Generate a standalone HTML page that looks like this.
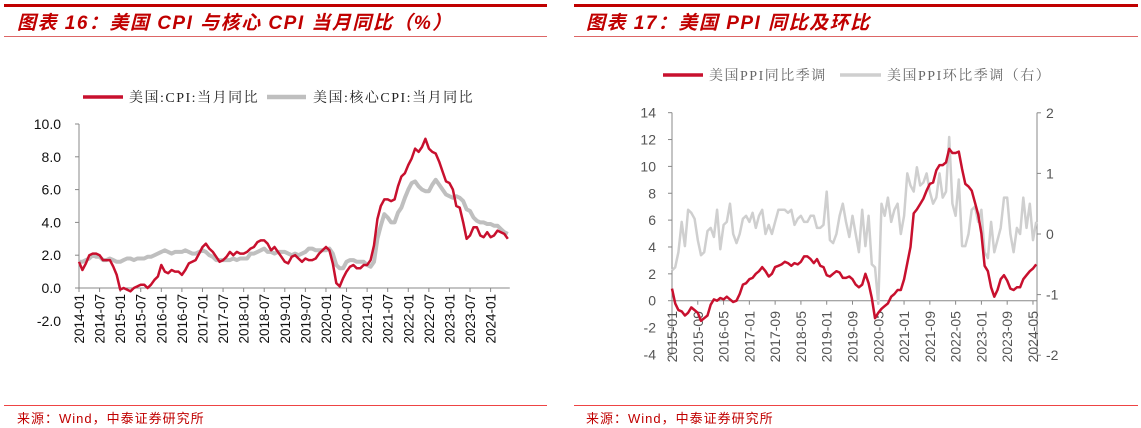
<!DOCTYPE html>
<html><head><meta charset="utf-8">
<style>
body{margin:0;width:1141px;height:428px;background:#fff;overflow:hidden;position:relative;font-family:"Liberation Sans","Noto Sans CJK SC",sans-serif}
.t{position:absolute;color:#c00000;font-style:italic;font-weight:bold;font-size:19px;letter-spacing:1.5px;font-family:"Liberation Sans","Noto Sans CJK SC",sans-serif}
.f{position:absolute;color:#c00000;font-size:13px;letter-spacing:1px;font-family:"Liberation Sans","Noto Sans CJK SC",sans-serif}
.bar{position:absolute;background:#c00000}
.thin{position:absolute;background:#d66}
</style></head><body>
<div class="bar" style="left:4px;top:4px;width:543px;height:3px"></div>
<div class="bar" style="left:574px;top:4px;width:564px;height:3px"></div>
<div class="t" style="left:17px;top:8px">图表 16：美国 CPI 与核心 CPI 当月同比（%）</div>
<div class="t" style="left:586px;top:8px">图表 17：美国 PPI 同比及环比</div>
<div class="thin" style="left:4px;top:36px;width:543px;height:1px"></div>
<div class="thin" style="left:574px;top:36px;width:564px;height:1px"></div>
<div class="thin" style="left:4px;top:405px;width:543px;height:1px;background:#e44"></div>
<div class="thin" style="left:574px;top:405px;width:564px;height:1px;background:#e44"></div>
<div class="f" style="left:17px;top:408px">来源：Wind，中泰证券研究所</div>
<div class="f" style="left:586px;top:408px">来源：Wind，中泰证券研究所</div>
<svg id="s" width="1141" height="428" style="position:absolute;left:0;top:0"></svg>
<script>
const cpi=[1.6,1.1,1.5,2.0,2.1,2.1,2.0,1.7,1.7,1.7,1.3,0.8,
-0.1,0.0,-0.1,-0.2,0.0,0.1,0.2,0.2,0.0,0.2,0.5,0.7,
1.4,1.0,0.9,1.1,1.0,1.0,0.8,1.1,1.5,1.6,1.7,2.1,
2.5,2.7,2.4,2.2,1.9,1.6,1.7,1.9,2.2,2.0,2.2,2.1,
2.1,2.2,2.4,2.5,2.8,2.9,2.9,2.7,2.3,2.5,2.2,1.9,
1.6,1.5,1.9,2.0,1.8,1.6,1.8,1.7,1.7,1.8,2.1,2.3,
2.5,2.3,1.5,0.3,0.1,0.6,1.0,1.3,1.4,1.2,1.2,1.4,
1.4,1.7,2.6,4.2,5.0,5.4,5.4,5.3,5.4,6.2,6.8,7.0,
7.5,7.9,8.5,8.3,8.6,9.1,8.5,8.3,8.2,7.7,7.1,6.5,
6.4,6.0,5.0,4.9,4.0,3.0,3.2,3.7,3.7,3.2,3.1,3.4,
3.1,3.2,3.5,3.4,3.3,3.0];
const core=[1.6,1.6,1.7,1.8,2.0,1.9,1.9,1.7,1.7,1.8,1.7,1.6,
1.6,1.7,1.8,1.8,1.7,1.8,1.8,1.8,1.9,1.9,2.0,2.1,
2.2,2.3,2.2,2.1,2.2,2.2,2.2,2.3,2.2,2.1,2.1,2.2,
2.3,2.2,2.0,1.9,1.7,1.7,1.7,1.7,1.7,1.8,1.7,1.8,
1.8,1.8,2.1,2.1,2.2,2.3,2.4,2.2,2.2,2.1,2.2,2.2,
2.2,2.1,2.0,2.1,2.0,2.1,2.2,2.4,2.4,2.3,2.3,2.3,
2.3,2.4,2.1,1.4,1.2,1.2,1.6,1.7,1.7,1.6,1.6,1.6,
1.4,1.3,1.6,3.0,3.8,4.5,4.3,4.0,4.0,4.6,4.9,5.5,
6.0,6.4,6.5,6.2,6.0,5.9,5.9,6.3,6.6,6.3,6.0,5.7,
5.6,5.5,5.6,5.5,5.3,4.8,4.7,4.3,4.1,4.0,4.0,3.9,
3.9,3.8,3.8,3.6,3.4,3.3];
const leftTicks=["10.0","8.0","6.0","4.0","2.0","0.0","-2.0"];
const leftTickVals=[10,8,6,4,2,0,-2];
const ppiYoy=[0.9,-0.2,-0.7,-0.8,-1.1,-0.9,-0.5,-0.7,-0.9,-1.5,-1.3,-1.1,
-0.3,0.1,0.0,0.2,0.1,0.3,0.1,-0.1,0.0,0.5,1.2,1.3,
1.6,1.7,2.0,2.2,2.5,2.2,1.8,2.0,2.5,2.6,2.7,2.9,
2.8,2.6,2.8,2.7,2.9,3.3,3.3,3.1,2.8,3.1,2.6,2.5,
1.9,1.8,2.0,2.2,2.1,1.7,1.7,1.8,1.6,1.2,1.0,1.2,
2.0,1.3,0.2,-1.3,-0.9,-0.6,-0.4,-0.2,0.3,0.5,0.8,0.8,
1.6,2.8,4.0,6.5,6.8,7.2,7.6,8.2,8.7,8.8,9.7,10.1,
10.1,10.3,11.3,11.0,11.0,11.1,9.8,8.7,8.5,8.2,7.3,6.4,
5.0,2.6,2.2,1.0,0.3,0.8,1.6,1.9,1.5,0.9,0.8,1.0,
1.0,1.6,1.9,2.2,2.4,2.7];
const ppiMom=[-0.6,-0.55,-0.3,0.2,-0.2,0.4,0.35,0.25,-0.1,-0.35,-0.3,0.05,
0.1,-0.05,0.4,-0.25,0.15,0.2,0.5,0.0,-0.15,0.0,0.25,0.3,
0.2,0.35,0.1,0.3,0.4,0.0,0.15,0.0,0.2,0.4,0.4,0.4,
0.35,0.4,0.15,0.25,0.3,0.2,0.2,0.3,0.3,0.1,0.1,0.15,
0.7,-0.1,-0.15,0.0,0.3,0.5,0.2,-0.05,0.3,0.0,-0.3,0.4,
-0.2,0.3,-0.5,-0.55,-1.15,0.5,0.3,0.6,0.2,0.4,0.5,0.0,
0.3,1.0,0.8,0.7,1.1,0.8,0.85,1.0,0.7,0.5,0.6,1.0,
0.6,0.7,1.6,0.5,0.3,0.9,-0.2,-0.2,0.0,0.4,0.45,0.2,
0.4,-0.3,-0.4,0.2,-0.3,-0.1,0.1,0.6,0.6,0.0,-0.3,0.1,
0.0,0.6,0.1,0.5,-0.1,0.2];
const rLeftTicks=["14","12","10","8","6","4","2","0","-2","-4"];
const rLeftVals=[14,12,10,8,6,4,2,0,-2,-4];
const rRightTicks=["2","1","0","-1","-2"];
const rRightVals=[2,1,0,-1,-2];

const S=document.getElementById('s');const NS='http://www.w3.org/2000/svg';
function el(t,a,txt){const e=document.createElementNS(NS,t);for(const k in a)e.setAttribute(k,a[k]);if(txt!=null)e.textContent=txt;S.appendChild(e);return e;}
function lbl(m){const y=2000+Math.floor(m/12),mm=m%12+1;return y+'-'+(mm<10?'0':'')+mm;}
const LEG='Liberation Serif, Noto Serif CJK SC, serif';

// ---- Left chart
const lx=i=>79+i*3.43, ly=v=>288-v*16.4;
let e;
e=el('line',{x1:79,y1:ly(10),x2:79,y2:ly(0),stroke:'#888','stroke-width':1});

e=el('line',{x1:79,y1:288,x2:lx(125)+2,y2:288,stroke:'#888','stroke-width':1});

leftTickVals.forEach((v,i)=>{
  if(v>=0){e=el('line',{x1:75,y1:ly(v),x2:79,y2:ly(v),stroke:'#888'});}
  e=el('text',{x:61,y:ly(v)+5,'text-anchor':'end','font-size':14,fill:'#111','font-family':'Liberation Sans'},leftTicks[i]);
  
});
for(let i=0;i<=120;i+=6){
  e=el('line',{x1:lx(i),y1:288,x2:lx(i),y2:292,stroke:'#888'});
  const x=lx(i)+5;
  e=el('text',{x:x,y:294,transform:`rotate(-90 ${x} 294)`,'text-anchor':'end','font-size':13.5,fill:'#111','font-family':'Liberation Sans'},lbl(168+i));
  
}
function path(arr,fx,fy){return arr.map((v,i)=>(i?'L':'M')+fx(i).toFixed(1)+' '+fy(v).toFixed(1)).join(' ');}
e=el('path',{d:path(core,lx,ly),fill:'none',stroke:'#bfbfbf','stroke-width':4,'stroke-linejoin':'round'});

e=el('path',{d:path(cpi,lx,ly),fill:'none',stroke:'#c8102e','stroke-width':2.5,'stroke-linejoin':'round'});

e=el('line',{x1:83,y1:97,x2:123,y2:97,stroke:'#c8102e','stroke-width':3.5});
e=el('text',{x:129,y:102,'font-size':14,'letter-spacing':1.5,fill:'#222','font-family':LEG},'美国:CPI:当月同比');
e=el('line',{x1:267,y1:97,x2:306,y2:97,stroke:'#bfbfbf','stroke-width':4.5});
e=el('text',{x:313,y:102,'font-size':14,'letter-spacing':1.5,fill:'#222','font-family':LEG},'美国:核心CPI:当月同比');

// ---- Right chart
const RX0=672, RX1=1037;
const rx=i=>RX0+i*3.223, ry=v=>300.7-v*13.43, ry2=v=>234-v*60.6;
e=el('line',{x1:RX0,y1:ry(14),x2:RX0,y2:ry(-4),stroke:'#888'});
e=el('line',{x1:RX1,y1:ry2(2),x2:RX1,y2:ry2(-2),stroke:'#888'});
e=el('line',{x1:RX0,y1:ry(0),x2:RX1,y2:ry(0),stroke:'#888'});
rLeftVals.forEach((v,i)=>{
  e=el('line',{x1:RX0-4,y1:ry(v),x2:RX0,y2:ry(v),stroke:'#888'});
  e=el('text',{x:656,y:ry(v)+5,'text-anchor':'end','font-size':14,fill:'#555','font-family':'Liberation Sans'},rLeftTicks[i]);
  
});
rRightVals.forEach((v,i)=>{
  e=el('line',{x1:RX1,y1:ry2(v),x2:RX1+4,y2:ry2(v),stroke:'#888'});
  e=el('text',{x:1046,y:ry2(v)+5,'font-size':14,fill:'#555','font-family':'Liberation Sans'},rRightTicks[i]);
  
});
for(let i=0;i<=112;i+=8){
  e=el('line',{x1:rx(i),y1:ry(0),x2:rx(i),y2:ry(0)+4,stroke:'#888'});
  const x=rx(i)+5;
  e=el('text',{x:x,y:311,transform:`rotate(-90 ${x} 311)`,'text-anchor':'end','font-size':14,fill:'#555','font-family':'Liberation Sans'},lbl(180+i));
  
}
e=el('path',{d:path(ppiMom,rx,ry2),fill:'none',stroke:'#cfcfcf','stroke-width':2.5,'stroke-linejoin':'round'});

e=el('path',{d:path(ppiYoy,rx,ry),fill:'none',stroke:'#c8102e','stroke-width':2.5,'stroke-linejoin':'round'});

e=el('line',{x1:663,y1:75,x2:703,y2:75,stroke:'#c8102e','stroke-width':3.5});
e=el('text',{x:709,y:80,'font-size':14,'letter-spacing':1.5,fill:'#666','font-family':LEG},'美国PPI同比季调');
e=el('line',{x1:840,y1:75,x2:881,y2:75,stroke:'#cfcfcf','stroke-width':3.5});
e=el('text',{x:887,y:80,'font-size':14,'letter-spacing':1.5,fill:'#666','font-family':LEG},'美国PPI环比季调（右）');
</script>
</body></html>
